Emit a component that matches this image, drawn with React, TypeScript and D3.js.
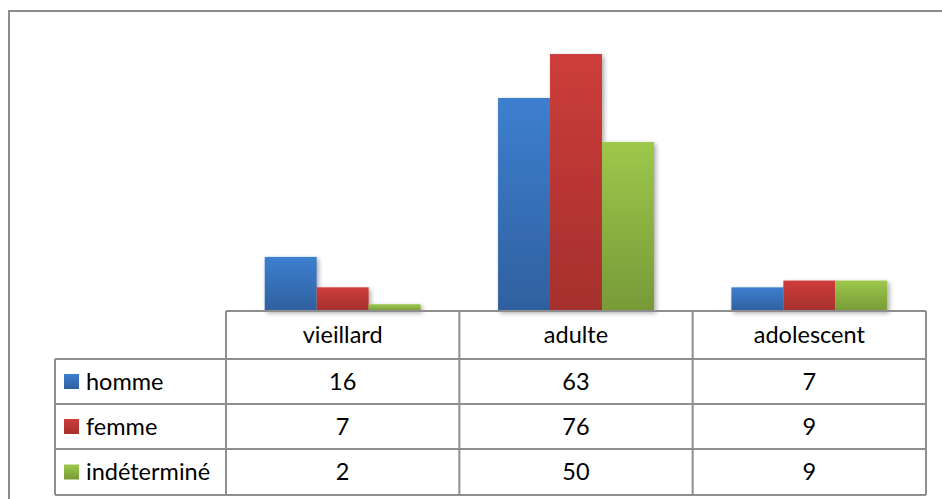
import React from "react";
import * as d3 from "d3";

const categories = ["vieillard", "adulte", "adolescent"];
const seriesNames = ["homme", "femme", "indéterminé"];
const homme = [16, 63, 7];
const femme = [7, 76, 9];
const indetermine = [2, 50, 9];
const seriesValues = [homme, femme, indetermine];

const colors = [
  { top: "#3d7fcf", bottom: "#2f609f" },
  { top: "#cd3d3a", bottom: "#a52f2d" },
  { top: "#9dc84b", bottom: "#779a38" },
];

const W = 942;
const H = 499;
const FONT = "Lato, 'Open Sans', sans-serif";

export default function App() {
  const tableLeft = 226;
  const tableRight = 926;
  const baseY = 311;
  const legendLeft = 55;
  const rowLines = [311, 359, 404, 449, 495];

  const x = d3.scaleBand<string>().domain(categories).range([tableLeft, tableRight]).paddingInner(0).paddingOuter(0);
  const inner = d3
    .scaleBand<number>()
    .domain([0, 1, 2])
    .range([0, x.bandwidth()])
    .paddingInner(0)
    .paddingOuter(0.745);
  const y = d3.scaleLinear().domain([0, 80]).range([baseY, 40.5]);

  const colEdges = [tableLeft, ...categories.map((c) => (x(c) as number) + x.bandwidth())];
  const gridColor = "#8e8e8e";
  const fs = 23.5;

  return (
    <svg width={W} height={H} style={{ position: "absolute", left: 0, top: 0 }} fontFamily={FONT}>
      <defs>
        {colors.map((c, i) => (
          <linearGradient key={i} id={`g${i}`} x1="0" y1="0" x2="0" y2="1">
            <stop offset="0" stopColor={c.top} />
            <stop offset="1" stopColor={c.bottom} />
          </linearGradient>
        ))}
        <filter id="shadow" x="-20%" y="-20%" width="150%" height="150%">
          <feGaussianBlur in="SourceAlpha" stdDeviation="2.5" />
          <feOffset dx="2" dy="2" result="b" />
          <feComponentTransfer>
            <feFuncA type="linear" slope="0.35" />
          </feComponentTransfer>
          <feMerge>
            <feMergeNode />
            <feMergeNode in="SourceGraphic" />
          </feMerge>
        </filter>
      </defs>
      <rect x={0} y={0} width={W} height={H} fill="#ffffff" />
      <rect x={9} y={11} width={W + 10} height={H + 10} fill="none" stroke="#8c8c8c" strokeWidth={2} />

      <g filter="url(#shadow)">
        {categories.map((c, ci) =>
          seriesValues.map((vals, si) => {
            const bx = (x(c) as number) + (inner(si) as number);
            const by = y(vals[ci]);
            return (
              <rect
                key={`${ci}-${si}`}
                x={bx}
                y={by}
                width={inner.bandwidth()}
                height={baseY - by}
                fill={`url(#g${si})`}
              />
            );
          })
        )}
      </g>

      <g stroke={gridColor} strokeWidth={2} fill="none">
        <line x1={tableLeft} x2={tableRight} y1={rowLines[0]} y2={rowLines[0]} />
        {rowLines.slice(1).map((ry, i) => (
          <line key={i} x1={legendLeft} x2={tableRight} y1={ry} y2={ry} />
        ))}
        {colEdges.map((cx, i) => (
          <line key={i} x1={cx} x2={cx} y1={rowLines[0]} y2={rowLines[4]} />
        ))}
        <line x1={legendLeft} x2={legendLeft} y1={rowLines[1]} y2={rowLines[4]} />
      </g>

      {categories.map((c) => (
        <text
          key={c}
          x={(x(c) as number) + x.bandwidth() / 2}
          y={(rowLines[0] + rowLines[1]) / 2}
          dy="0.35em"
          textAnchor="middle"
          fontSize={fs}
          fill="#000"
        >
          {c}
        </text>
      ))}

      {seriesNames.map((s, si) => {
        const cy = (rowLines[si + 1] + rowLines[si + 2]) / 2;
        return (
          <g key={s}>
            <rect x={64} y={cy - 7.5} width={15} height={15} fill={`url(#g${si})`} />
            <text x={86} y={cy} dy="0.35em" fontSize={fs} fill="#000">
              {s}
            </text>
            {categories.map((c, ci) => (
              <text
                key={c}
                x={(x(c) as number) + x.bandwidth() / 2}
                y={cy}
                dy="0.35em"
                textAnchor="middle"
                fontSize={fs}
                fill="#000"
              >
                {seriesValues[si][ci]}
              </text>
            ))}
          </g>
        );
      })}
    </svg>
  );
}
